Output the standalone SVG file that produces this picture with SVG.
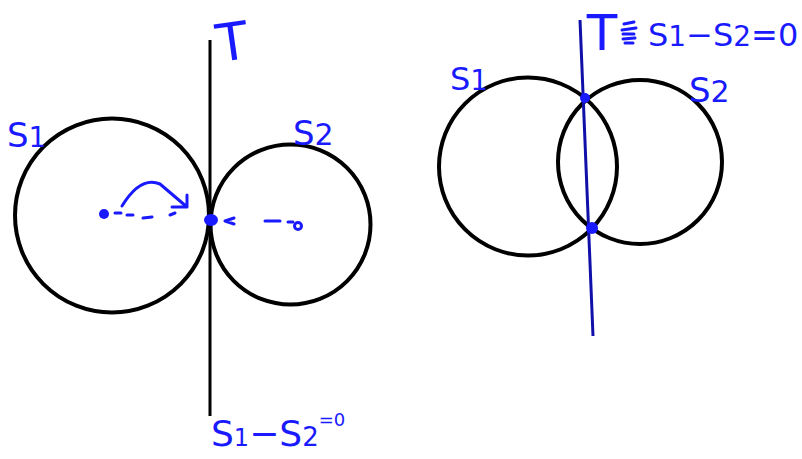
<svg xmlns="http://www.w3.org/2000/svg" width="802" height="459" viewBox="0 0 802 459">
<style>
.circ{fill:none;stroke:#000;stroke-width:4}
.ln{fill:none;stroke:#000;stroke-width:3}
.ink{fill:none;stroke:#1a1aff;stroke-width:3;stroke-linecap:round;stroke-linejoin:round}
.lbl{font-family:"DejaVu Sans","Liberation Sans",sans-serif;fill:#1a1aff}
.dot{fill:#1a1aff}
</style>
<rect width="802" height="459" fill="#fff"/>
<g id="left-figure">
  <g id="circle-s1-left"><circle class="circ" cx="112" cy="215.5" r="97"/>
    <text class="lbl" x="7" y="147" font-size="34">S<tspan font-size="28">1</tspan></text></g>
  <g id="circle-s2-left"><circle class="circ" cx="290.5" cy="224.5" r="80"/>
    <text class="lbl" x="293" y="145" font-size="34">S<tspan font-size="30">2</tspan></text></g>
  <g id="tangent-line-left"><line class="ln" x1="210" y1="40" x2="210" y2="416"/>
    <text class="lbl" x="232" y="60" font-size="52" text-anchor="middle" transform="rotate(-8 232 40)">T</text>
    <text class="lbl" x="211" y="446" font-size="36">S<tspan font-size="24">1</tspan>−S<tspan font-size="26">2</tspan><tspan font-size="18" dy="-20">=0</tspan></text></g>
</g>
<g id="connectors">
  <circle class="dot" cx="104" cy="214" r="5"/>
  <path class="ink" d="M115 213 L121 213 M127 215 L133 215 M143 218 L152 217 M170 215 L175 213"/>
  <path class="ink" d="M122 206 C133 188 146 178 160 184 L187 207 M187 195 L187 207 L172 207"/>
  <ellipse class="dot" cx="211" cy="220" rx="7" ry="6"/>
  <path class="ink" d="M234 218 L225 221 L234 224 M265 221 L280 221 M288 222 L293 222"/>
  <circle class="ink" cx="298" cy="226" r="3.5"/>
</g>
<g id="right-figure">
  <g id="circle-s1-right"><circle class="circ" cx="528" cy="166.5" r="89"/>
    <text class="lbl" x="450" y="90" font-size="32">S<tspan font-size="28">1</tspan></text></g>
  <g id="circle-s2-right"><circle class="circ" cx="640" cy="162" r="82"/>
    <text class="lbl" x="689" y="102" font-size="34">S<tspan font-size="30">2</tspan></text></g>
  <g id="radical-axis"><line x1="580" y1="20" x2="593" y2="336" stroke="#1010a8" stroke-width="3"/>
    <circle class="dot" cx="585" cy="98" r="5"/>
    <circle class="dot" cx="592" cy="228" r="6"/>
    <text class="lbl" x="602" y="50" font-size="50" text-anchor="middle">T</text>
    <path class="ink" stroke-width="4" d="M624 24 L634 22 M622 30 L636 28 M623 34 L634 34 M623 39 L635 38 M625 43 L633 43"/>
    <text class="lbl" x="648" y="46" font-size="32">S<tspan font-size="28">1</tspan>−S<tspan font-size="28">2</tspan>=0</text></g>
</g>
</svg>
